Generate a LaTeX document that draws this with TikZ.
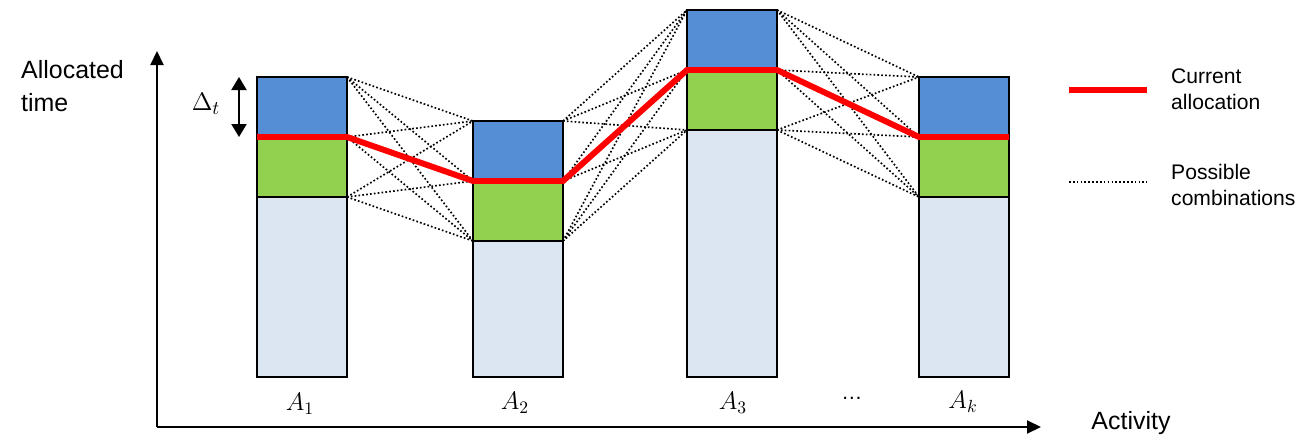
\documentclass[tikz,border=0pt]{standalone}
\usepackage{fontspec}
\setmainfont{Liberation Sans}
\usepackage{amsmath}
\usetikzlibrary{arrows.meta}
\definecolor{blockblue}{HTML}{558ED5}
\definecolor{blockgreen}{HTML}{92D050}
\definecolor{blocklight}{HTML}{DCE6F2}
\definecolor{allocred}{HTML}{FF0000}

\begin{document}
\begin{tikzpicture}[
    seg/.style={draw=black, line width=0.9pt, rectangle, minimum width=1.8cm, inner sep=0pt, outer sep=0pt, anchor=south},
    bnode/.style={seg, fill=blockblue, minimum height=1.2cm},
    gnode/.style={seg, fill=blockgreen, minimum height=1.2cm},
    lnode/.style={seg, fill=blocklight},
    axis/.style={line width=1.15pt, -{Triangle[length=0.28cm, width=0.26cm]}},
    combo/.style={black, line width=0.95pt, dash pattern=on 0.95pt off 1.25pt},
    alloc/.style={allocred, line width=3.4pt},
    lab/.style={font=\fontsize{14.2}{18.7}\selectfont, align=left}]

  \useasboundingbox (0,0) rectangle (26.08,8.82);

  % axes
  \coordinate (o) at (3.14,0.28);
  \coordinate (ytip) at (3.14,7.80);
  \coordinate (xtip) at (20.82,0.28);
  \draw[axis] (o) -- (ytip);
  \draw[axis] (o) -- (xtip);
  \node[lab, anchor=west] (ylab) at (0.30,7.09) {Allocated\\time};
  \node[lab] (xlab) at (22.62,0.36) {Activity};

  % bars
  \node[lnode, minimum height=3.6cm] (l1) at (6.04,1.28) {};
  \node[gnode] (g1) at (l1.north) {};
  \node[bnode] (b1) at (g1.north) {};

  \node[lnode, minimum height=2.72cm] (l2) at (10.36,1.28) {};
  \node[gnode] (g2) at (l2.north) {};
  \node[bnode] (b2) at (g2.north) {};

  \node[lnode, minimum height=4.94cm] (l3) at (14.64,1.28) {};
  \node[gnode] (g3) at (l3.north) {};
  \node[bnode] (b3) at (g3.north) {};

  \node[lnode, minimum height=3.6cm] (l4) at (19.28,1.28) {};
  \node[gnode] (g4) at (l4.north) {};
  \node[bnode] (b4) at (g4.north) {};

  \node[font=\fontsize{14}{16}\selectfont] (n1) at (6.00,0.74) {$A_1$};
  \node[font=\fontsize{14}{16}\selectfont] (n2) at (10.30,0.76) {$A_2$};
  \node[font=\fontsize{14}{16}\selectfont] (n3) at (14.66,0.76) {$A_3$};
  \node[font=\fontsize{14}{16}\selectfont] (n4) at (19.26,0.78) {$A_k$};
  \node[font=\fontsize{12}{14}\selectfont] (dots) at (17.04,0.86) {\dots};

  % step size
  \draw[line width=1.1pt, {Triangle[length=0.26cm, width=0.3cm]}-{Triangle[length=0.26cm, width=0.3cm]}]
    ([xshift=-0.36cm]b1.north west) -- ([xshift=-0.36cm]b1.south west);
  \node[font=\fontsize{15}{18}\selectfont] (dt) at (4.12,6.74) {$\Delta_t$};

  % combinations between neighbouring bars
  \foreach \u/\v in {1/2,2/3,3/4} {
    \foreach \p in {b\u.north east, b\u.south east, g\u.south east} {
      \foreach \q in {b\v.north west, b\v.south west, g\v.south west}
        \draw[combo] (\p) -- (\q);
    }
  }

  \draw[alloc] (b1.south west) -- (b1.south east) -- (b2.south west) -- (b2.south east)
    -- (b3.south west) -- (b3.south east) -- (b4.south west) -- (b4.south east);

  % legend
  \coordinate (ra) at (21.38,7.02);
  \coordinate (rb) at (22.94,7.02);
  \draw[alloc] (ra) -- (rb);
  \node[anchor=west, align=left, font=\fontsize{12}{14.7}\selectfont] (curtxt) at (23.30,7.03) {Current\\allocation};
  \coordinate (ca) at (21.38,5.18);
  \coordinate (cb) at (22.94,5.18);
  \draw[combo] (ca) -- (cb);
  \node[anchor=west, align=left, font=\fontsize{12}{14.7}\selectfont] (comtxt) at (23.30,5.12) {Possible\\combinations};
\end{tikzpicture}
\end{document}
